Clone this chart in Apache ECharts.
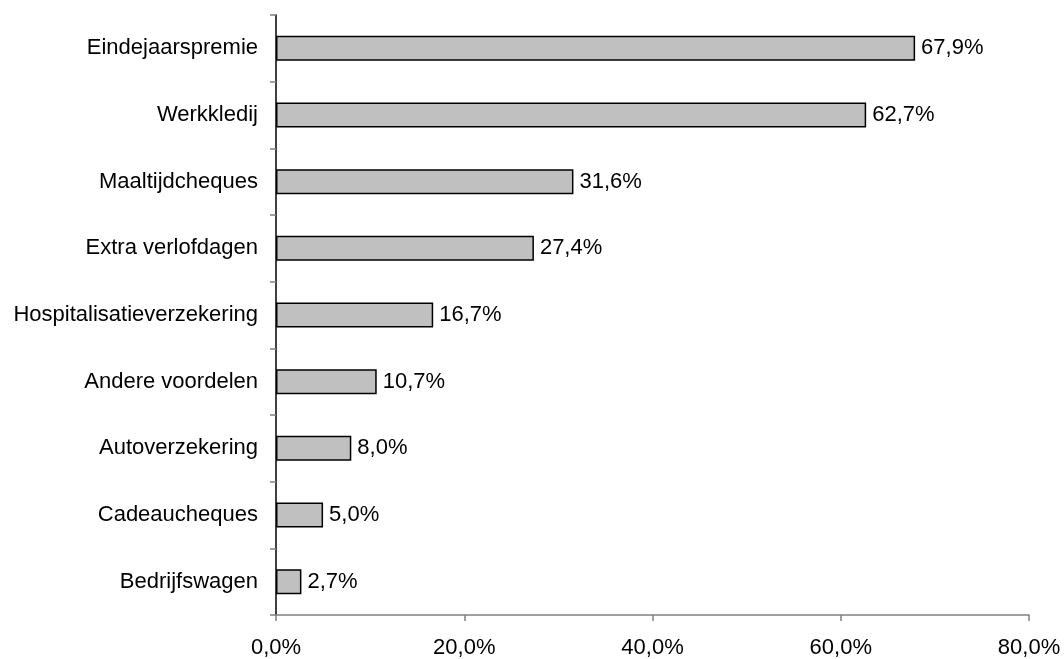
<!DOCTYPE html>
<html>
<head>
<meta charset="utf-8">
<script src="https://cdn.jsdelivr.net/npm/echarts@6/dist/echarts.min.js"></script>
<style>
  html, body { margin: 0; padding: 0; background: #fff; }
  #chart { width: 1064px; height: 659px; }
</style>
</head>
<body>
<div id="chart"></div>
<script>
// Voordelen (percentage), van hoog naar laag
const categories = [
  'Eindejaarspremie',
  'Werkkledij',
  'Maaltijdcheques',
  'Extra verlofdagen',
  'Hospitalisatieverzekering',
  'Andere voordelen',
  'Autoverzekering',
  'Cadeaucheques',
  'Bedrijfswagen'
];
const values = [67.9, 62.7, 31.6, 27.4, 16.7, 10.7, 8.0, 5.0, 2.7];
const xTicks = [0, 20, 40, 60, 80];

const fmt = v => v.toFixed(1).replace('.', ',') + '%';
const font = 'Liberation Sans, Arial, sans-serif';

const chart = echarts.init(document.getElementById('chart'));
chart.setOption({
  animation: false,
  backgroundColor: '#ffffff',
  grid: { left: 276, right: 35, top: 15, bottom: 43, containLabel: false },
  xAxis: {
    type: 'value',
    min: xTicks[0],
    max: xTicks[xTicks.length - 1],
    interval: xTicks[1] - xTicks[0],
    axisLine: { show: true, lineStyle: { color: '#808080', width: 1.5 } },
    axisTick: { show: true, inside: false, length: 6, lineStyle: { color: '#808080', width: 1.5 } },
    splitLine: { show: false },
    axisLabel: {
      formatter: fmt,
      color: '#000',
      fontFamily: font,
      fontSize: 22,
      margin: 22
    }
  },
  yAxis: {
    type: 'category',
    data: categories,
    inverse: true,
    axisLine: { show: true, lineStyle: { color: '#000', width: 1.5 } },
    axisTick: { show: true, alignWithLabel: false, length: 6, lineStyle: { color: '#808080', width: 1.5 } },
    splitLine: { show: false },
    axisLabel: {
      color: '#000',
      fontFamily: font,
      fontSize: 22,
      margin: 18
    }
  },
  series: [{
    type: 'bar',
    data: values,
    barWidth: 25,
    itemStyle: { color: '#C0C0C0', borderColor: '#000', borderWidth: 1.5 },
    label: {
      show: true,
      position: 'right',
      distance: 6,
      formatter: p => fmt(p.value),
      color: '#000',
      fontFamily: font,
      fontSize: 22
    }
  }]
});
</script>
</body>
</html>
